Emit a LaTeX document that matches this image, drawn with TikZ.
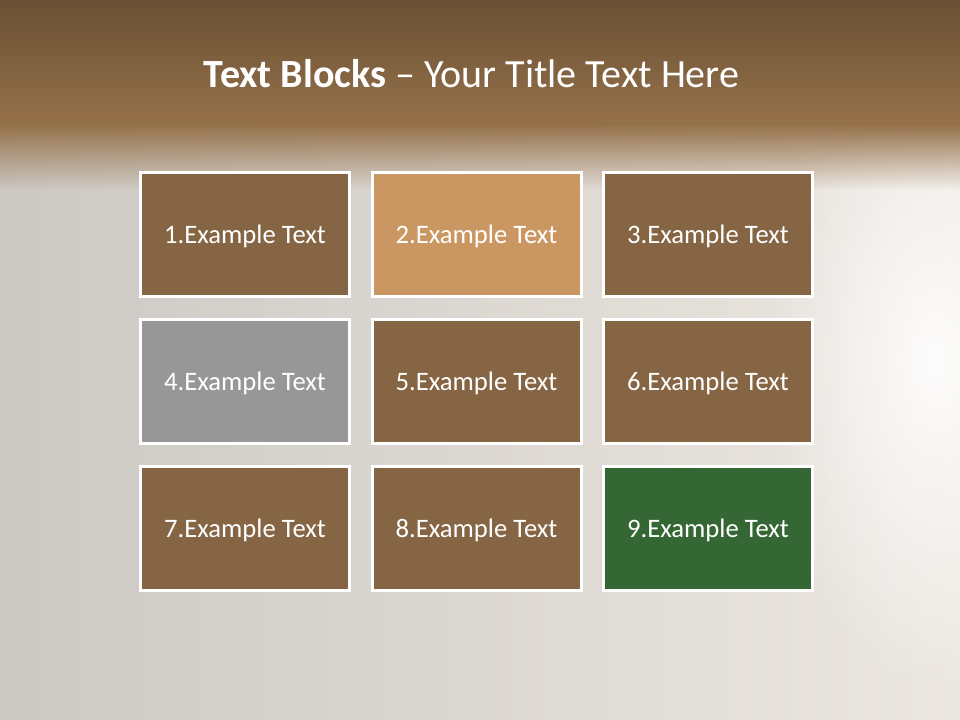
\documentclass[tikz,border=0pt]{standalone}
\usepackage{fontspec}
\setmainfont{Carlito}
\usetikzlibrary{fadings}
\definecolor{bandtop}{RGB}{106,80,52}
\definecolor{bandbot}{RGB}{149,113,74}
\definecolor{bgleft}{RGB}{204,200,195}
\definecolor{bgmid}{RGB}{213,207,201}
\definecolor{bgright}{RGB}{236,231,225}
\definecolor{boxbrown}{RGB}{133,101,67}
\definecolor{boxtan}{RGB}{202,151,98}
\definecolor{boxgray}{RGB}{151,151,151}
\definecolor{boxgreen}{RGB}{52,103,52}

\tikzfading[name=fadedown, top color=transparent!0, bottom color=transparent!100]
\tikzfading[name=softglow, inner color=transparent!0, outer color=transparent!100]

\begin{document}
\begin{tikzpicture}[x=0.75pt,y=0.75pt,
  block/.style={draw=white, line width=2.25pt, minimum width=156.75pt,
    minimum height=93pt, inner sep=0pt, text=white,
    font=\fontsize{20}{24}\selectfont, text height=12.9pt, text depth=0pt}]

% Background
\useasboundingbox (0,0) rectangle (960,720);
\fill[left color=bgleft, middle color=bgmid, right color=bgright] (0,0) rectangle (960,720);

% Light on the right
\fill[white, opacity=0.9, path fading=softglow] (935,360) ellipse (170 and 330);

% Top band
\shade[top color=bandtop, bottom color=bandbot] (0,720) rectangle (960,595);
\fill[bandbot, path fading=fadedown] (0,596) rectangle (960,530);

% Title
\node[anchor=base, text=white, font=\fontsize{30}{36}\selectfont] (title) at (471.5,632)
  {\textbf{Text Blocks} – Your Title Text Here};

% Blocks
\foreach \n/\x/\y/\c in {
1/245/485.5/boxbrown, 2/476.5/485.5/boxtan, 3/708/485.5/boxbrown,
4/245/338.5/boxgray, 5/476.5/338.5/boxbrown, 6/708/338.5/boxbrown,
7/245/191.5/boxbrown, 8/476.5/191.5/boxbrown, 9/708/191.5/boxgreen} {
    \node[block, fill=\c] (b\n) at (\x,\y) {\n.Example Text};
}

\end{tikzpicture}
\end{document}
